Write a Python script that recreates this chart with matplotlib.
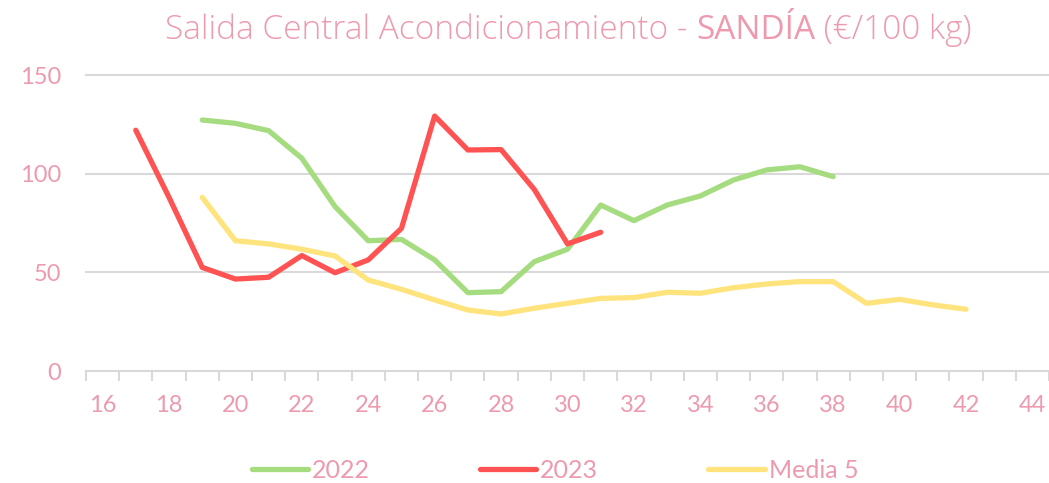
import matplotlib
matplotlib.use("Agg")
import matplotlib.pyplot as plt
import numpy as np

weeks_2022 = list(range(19, 39))
vals_2022 = [127.2, 125.5, 121.8, 107.8, 83.3, 66.0, 66.7, 56.3, 39.7, 40.2,
             55.4, 61.7, 84.1, 76.2, 84.1, 88.7, 96.8, 101.9, 103.5, 98.5]
weeks_2023 = list(range(17, 32))
vals_2023 = [122.0, 88.0, 52.5, 46.6, 47.5, 58.5, 49.8, 56.3, 72.3, 129.2,
             112.0, 112.2, 92.0, 64.4, 70.3]
weeks_media = list(range(19, 43))
vals_media = [88.0, 66.0, 64.4, 61.7, 58.3, 46.1, 41.4, 36.0, 30.9, 28.9,
              31.8, 34.3, 36.8, 37.2, 39.9, 39.4, 42.2, 44.1, 45.3, 45.3,
              34.3, 36.3, 33.5, 31.3]
series_names = ["2022", "2023", "Media 5"]
x_labels = list(range(16, 45, 2))
y_ticks = [0, 50, 100, 150]

pink = "#EE9AAE"
green = "#A6DC80"
red = "#FF5252"
yellow = "#FFE37D"
grid = "#D9D9D9"
FONT = ["Lato", "DejaVu Sans"]
TFONT = ["Open Sans", "DejaVu Sans"]
plt.rcParams['font.family'] = FONT

fig = plt.figure(figsize=(10.49, 4.83), dpi=100)
ax = fig.add_axes([86/1049, 1-371/483, (1049-86)/1049, (371-75)/483])

ax.plot(weeks_2022, vals_2022, color=green, lw=3.8, solid_capstyle='round', solid_joinstyle='round', label=series_names[0])
ax.plot(weeks_2023, vals_2023, color=red, lw=3.8, solid_capstyle='round', solid_joinstyle='round', label=series_names[1])
ax.plot(weeks_media, vals_media, color=yellow, lw=3.8, solid_capstyle='round', solid_joinstyle='round', label=series_names[2])

ax.set_xlim(15.5, 44.5)
ax.set_ylim(0, 150)
ax.set_yticks(y_ticks)
ax.set_yticklabels([str(v) for v in y_ticks])
for v in y_ticks[1:]:
    ax.axhline(v, color=grid, lw=1.5, zorder=0, clip_on=False)
ax.set_xticks(x_labels)
ax.set_xticklabels([str(v) for v in x_labels])
ax.set_xticks(np.arange(15.5, 45, 1), minor=True)
ax.tick_params(axis='x', which='major', length=0, pad=17, labelsize=17, labelcolor=pink)
ax.tick_params(axis='x', which='minor', length=7, width=1.5, color=grid)
ax.tick_params(axis='y', length=0, pad=18, labelsize=17, labelcolor=pink)
for s in ['top', 'right', 'left']:
    ax.spines[s].set_visible(False)
ax.spines['bottom'].set_color(grid)
ax.spines['bottom'].set_linewidth(1.5)

# Title in parts
t1 = fig.text(165/1049, 1-30/483, "Salida Central Acondicionamiento - ", fontsize=24,
              fontweight=300, family=TFONT, color=pink, va='center', ha='left')
t2 = ax.annotate("SANDÍA", xy=(1, 0), xycoords=t1, va='bottom', ha='left',
                 fontsize=24, fontweight='normal', family=TFONT, color=pink)
t3 = ax.annotate(" (€/100 kg)", xy=(1, 0), xycoords=t2, va='bottom', ha='left',
                 fontsize=24, fontweight=300, family=TFONT, color=pink)

leg = fig.legend(loc='center', bbox_to_anchor=(555/1049, 1-470/483), ncol=3, frameon=False,
                 fontsize=18, handlelength=2.25, handletextpad=0.16, columnspacing=4.4)
for txt in leg.get_texts():
    txt.set_color(pink)

fig.savefig("out.png", dpi=100)
